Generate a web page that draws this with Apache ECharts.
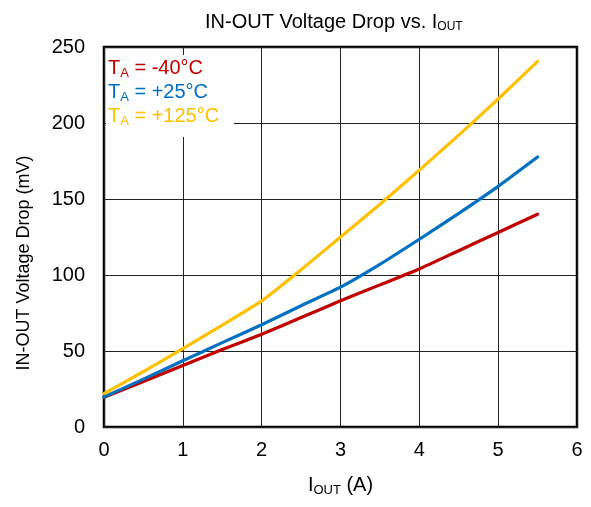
<!DOCTYPE html>
<html>
<head>
<meta charset="utf-8">
<script src="https://cdn.jsdelivr.net/npm/echarts@6/dist/echarts.min.js"></script>
<style>
  html, body { margin: 0; padding: 0; background: #fff; }
  #chart { width: 591px; height: 507px; }
</style>
</head>
<body>
<div id="chart"></div>
<script>
// Output current (A) sample points
const iout = [0, 0.5, 1, 1.5, 2, 2.5, 3, 3.5, 4, 4.5, 5, 5.5];
// IN-OUT voltage drop (mV) per ambient temperature
const dropM40 = [19.5, 30, 40.5, 51, 61, 72, 83, 93.5, 104, 116, 128, 140];
const dropP25 = [19.7, 31.5, 43.6, 55.5, 67.3, 79.8, 92, 107, 123.5, 140.5, 158.3, 177.6];
const dropP125 = [22, 36.5, 51.5, 67, 83, 103.5, 125, 146.5, 169, 192, 215.8, 240.5];
const xTicks = [0, 1, 2, 3, 4, 5, 6];
const yTicks = [0, 50, 100, 150, 200, 250];

const seriesInfo = [
  { name: 'TA = -40°C', label: ' = -40°C', color: '#C00000', data: dropM40 },
  { name: 'TA = +25°C', label: ' = +25°C', color: '#0070C0', data: dropP25 },
  { name: 'TA = +125°C', label: ' = +125°C', color: '#FFC000', data: dropP125 }
];

const FONT = '"Liberation Sans", Arial, sans-serif';
const chart = echarts.init(document.getElementById('chart'), null, { renderer: 'canvas' });

// rich styles for the temperature key (T with subscript A)
const legendRich = {};
seriesInfo.forEach((s, i) => {
  legendRich['t' + i] = { fontSize: 20, fontFamily: FONT, fill: s.color, lineHeight: 24 };
  legendRich['s' + i] = { fontSize: 13, fontFamily: FONT, fill: s.color, lineHeight: 13, padding: [11, 0, 0, 0] };
});

chart.setOption({
  animation: false,
  backgroundColor: '#fff',
  title: {
    text: '{a|IN-OUT Voltage Drop vs. I}{b|OUT}',
    left: 200,
    top: 5,
    textStyle: {
      rich: {
        a: { fontSize: 20, fontFamily: FONT, color: '#000', fontWeight: 'normal', lineHeight: 24 },
        b: { fontSize: 12, fontFamily: FONT, color: '#000', fontWeight: 'normal', lineHeight: 12, padding: [10, 0, 0, 0] }
      }
    }
  },
  grid: {
    left: 104, top: 47, right: 14, bottom: 80,
    show: true, borderColor: '#000', borderWidth: 2.5, backgroundColor: '#fff'
  },
  xAxis: {
    type: 'value', min: 0, max: 6, interval: 1,
    name: '{a|I}{b|OUT}{a| (A)}',
    nameLocation: 'middle', nameGap: 46,
    nameTextStyle: {
      rich: {
        a: { fontSize: 20, fontFamily: FONT, color: '#000', lineHeight: 24 },
        b: { fontSize: 13, fontFamily: FONT, color: '#000', lineHeight: 13, padding: [11, 0, 0, 0] }
      }
    },
    axisLine: { show: false },
    axisTick: { show: false },
    axisLabel: {
      fontSize: 20, fontFamily: FONT, color: '#000', margin: 13,
      formatter: v => xTicks.includes(v) ? String(v) : ''
    },
    splitLine: { show: true, lineStyle: { color: '#222', width: 1 } }
  },
  yAxis: {
    type: 'value', min: 0, max: 250, interval: 50,
    axisLine: { show: false },
    axisTick: { show: false },
    axisLabel: {
      fontSize: 20, fontFamily: FONT, color: '#000', margin: 19,
      formatter: v => yTicks.includes(v) ? String(v) : ''
    },
    splitLine: { show: true, lineStyle: { color: '#222', width: 1 } }
  },
  series: seriesInfo.map(s => ({
    name: s.name,
    type: 'line',
    data: iout.map((x, i) => [x, s.data[i]]),
    showSymbol: false,
    smooth: 0.15,
    lineStyle: { color: s.color, width: 3.2, cap: 'round' },
    itemStyle: { color: s.color },
    z: 3
  })),
  graphic: [
    // y-axis title
    {
      type: 'text', x: 24, y: 263, rotation: Math.PI / 2, z: 10,
      style: {
        text: 'IN-OUT Voltage Drop (mV)',
        fontSize: 18, fontFamily: FONT, fill: '#000',
        align: 'center', verticalAlign: 'middle'
      }
    },
    // white backing behind the temperature key
    {
      type: 'rect', left: 106, top: 55, z: 10,
      shape: { width: 128, height: 82 },
      style: { fill: '#fff' }
    },
    {
      type: 'text', left: 108, top: 56, z: 11,
      style: {
        text: seriesInfo.map((s, i) => '{t' + i + '|T}{s' + i + '|A}{t' + i + '|' + s.label + '}').join('\n'),
        rich: legendRich
      }
    }
  ]
});
</script>
</body>
</html>
